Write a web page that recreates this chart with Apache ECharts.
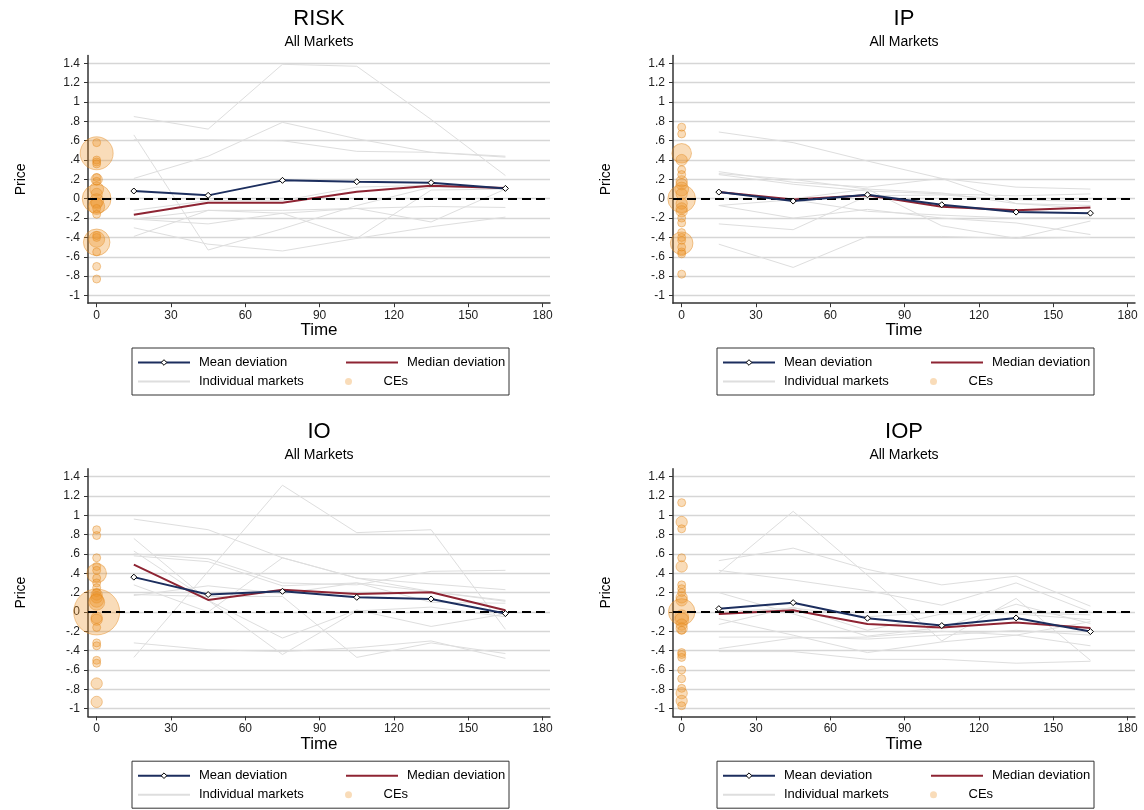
<!DOCTYPE html>
<html><head><meta charset="utf-8">
<script src="https://cdn.jsdelivr.net/npm/echarts@6/dist/echarts.min.js"></script>
<style>html,body{margin:0;padding:0;background:#fff}#c{width:1144px;height:810px}</style>
</head><body><div id="c"></div>
<script>
// ---------- data ----------
const times = [15, 45, 75, 105, 135, 165];
const xTicks = [0, 30, 60, 90, 120, 150, 180];
const yTicks = [-1, -0.8, -0.6, -0.4, -0.2, 0, 0.2, 0.4, 0.6, 0.8, 1, 1.2, 1.4];
const legendNames = ['Mean deviation', 'Median deviation', 'Individual markets', 'CEs'];

const riskMean = [0.08, 0.035, 0.19, 0.176, 0.166, 0.107];
const riskMedian = [-0.166, -0.041, -0.041, 0.073, 0.135, 0.11];
const riskMarkets = [
  [0.85, 0.72, 1.39, 1.37, 0.82, 0.24],
  [0.21, 0.44, 0.79, 0.62, 0.48, 0.43],
  [0.61, 0.61, 0.60, 0.49, 0.48, 0.44],
  [0.66, -0.53, -0.31, -0.07, 0.12, 0.11],
  [-0.12, -0.02, -0.02, 0.12, 0.14, 0.10],
  [-0.21, -0.12, -0.12, -0.10, -0.24, 0.10],
  [-0.21, -0.26, -0.15, -0.10, -0.08, -0.09],
  [-0.30, -0.47, -0.54, -0.41, -0.29, -0.19],
  [-0.39, -0.12, -0.15, -0.41, 0.09, 0.10]
];
const riskCE = [0.58, 0.47, 0.40, 0.38, 0.36, 0.22, 0.20, 0.18, 0.10, 0.05, 0.0, -0.02, -0.05, -0.08, -0.10, -0.16, -0.38, -0.40, -0.42, -0.45, -0.55, -0.70, -0.83];
const riskCEn = [1, 17, 1, 1, 1, 1, 2, 1, 3, 2, 13, 3, 2, 4, 1, 1, 1, 1, 4, 11, 1, 1, 1];

const ipMean = [0.069, -0.024, 0.041, -0.062, -0.138, -0.149];
const ipMedian = [0.07, -0.007, 0.035, -0.083, -0.118, -0.09];
const ipMarkets = [
  [0.69, 0.58, 0.39, 0.21, -0.05, -0.10],
  [0.28, 0.17, 0.12, 0.21, 0.12, 0.10],
  [0.25, 0.15, 0.08, 0.05, 0.03, 0.05],
  [0.26, 0.20, 0.10, 0.06, -0.05, -0.07],
  [-0.07, -0.20, -0.11, -0.20, -0.25, -0.37],
  [-0.26, -0.32, 0.03, 0.04, -0.01, -0.03],
  [0.00, 0.00, 0.10, -0.28, -0.41, -0.23],
  [-0.47, -0.71, -0.39, -0.39, -0.41, -0.40],
  [-0.07, -0.01, -0.13, -0.17, -0.20, -0.19]
];
const ipCE = [0.74, 0.67, 0.47, 0.40, 0.30, 0.25, 0.18, 0.15, 0.10, 0.05, 0.0, -0.05, -0.10, -0.13, -0.20, -0.25, -0.35, -0.40, -0.43, -0.46, -0.50, -0.55, -0.57, -0.78];
const ipCEn = [1, 1, 6, 2, 1, 1, 2, 2, 3, 2, 12, 2, 2, 2, 1, 1, 1, 1, 1, 8, 1, 1, 1, 1];

const ioMean = [0.36, 0.18, 0.213, 0.151, 0.134, -0.017];
const ioMedian = [0.49, 0.124, 0.23, 0.186, 0.203, 0.017];
const ioMarkets = [
  [0.96, 0.85, 0.56, 0.35, 0.21, 0.12],
  [-0.47, 0.42, 1.31, 0.82, 0.85, -0.18],
  [0.76, 0.12, -0.27, 0.02, -0.15, -0.02],
  [0.60, 0.55, 0.30, 0.28, 0.42, 0.43],
  [0.28, 0.00, 0.56, 0.35, 0.29, 0.23],
  [0.17, 0.27, 0.19, 0.30, 0.21, 0.11],
  [-0.32, -0.39, -0.41, -0.37, -0.30, -0.48],
  [0.63, 0.12, -0.44, 0.01, 0.05, -0.05],
  [0.18, 0.16, 0.16, -0.47, -0.32, -0.43],
  [0.58, 0.52, 0.27, 0.30, 0.10, 0.09]
];
const ioCE = [0.85, 0.79, 0.56, 0.47, 0.43, 0.40, 0.35, 0.30, 0.25, 0.20, 0.18, 0.15, 0.12, 0.10, 0.0, -0.06, -0.08, -0.16, -0.32, -0.35, -0.50, -0.53, -0.74, -0.93];
const ioCEn = [1, 1, 1, 1, 1, 6, 1, 1, 1, 1, 2, 2, 3, 4, 33, 2, 2, 1, 1, 1, 1, 1, 2, 2];

const iopMean = [0.034, 0.096, -0.065, -0.141, -0.062, -0.203];
const iopMedian = [-0.02, 0.017, -0.124, -0.162, -0.11, -0.165];
const iopMarkets = [
  [0.40, 1.04, 0.38, -0.30, 0.14, -0.50],
  [0.53, 0.66, 0.44, 0.28, 0.37, 0.06],
  [0.43, 0.33, 0.22, 0.07, 0.30, 0.00],
  [0.20, -0.02, -0.25, -0.16, 0.08, -0.12],
  [-0.13, 0.05, -0.19, -0.02, -0.02, -0.08],
  [-0.07, -0.24, -0.42, -0.31, -0.24, -0.35],
  [-0.26, -0.26, -0.28, -0.24, -0.19, -0.24],
  [-0.38, -0.27, -0.26, -0.20, -0.24, -0.10],
  [-0.41, -0.41, -0.49, -0.49, -0.53, -0.51],
  [0.00, 0.04, -0.05, 0.00, -0.01, -0.03]
];
const iopCE = [1.13, 0.93, 0.86, 0.56, 0.47, 0.28, 0.24, 0.20, 0.15, 0.12, 0.0, -0.05, -0.08, -0.13, -0.17, -0.19, -0.42, -0.44, -0.47, -0.60, -0.69, -0.79, -0.84, -0.92, -0.97];
const iopCEn = [1, 2, 1, 1, 2, 1, 1, 1, 2, 2, 11, 3, 3, 2, 2, 1, 1, 1, 1, 1, 1, 1, 2, 2, 1];

// ---------- layout ----------
const FONT = '"Liberation Sans", Arial, Helvetica, sans-serif';
const panels = [
  {title: 'RISK', mean: riskMean, median: riskMedian, markets: riskMarkets, ce: riskCE, cen: riskCEn, left: 88, top: 55.6},
  {title: 'IP', mean: ipMean, median: ipMedian, markets: ipMarkets, ce: ipCE, cen: ipCEn, left: 673, top: 55.6},
  {title: 'IO', mean: ioMean, median: ioMedian, markets: ioMarkets, ce: ioCE, cen: ioCEn, left: 88, top: 468.8},
  {title: 'IOP', mean: iopMean, median: iopMedian, markets: iopMarkets, ce: iopCE, cen: iopCEn, left: 673, top: 468.8}
];
const GW = 462, GH = 247.6;
const CE_FILL = 'rgba(236,146,36,0.4)';
const CE_EDGE = 'rgba(226,136,30,0.55)';

function stata(v) {
  v = Math.round(v * 10) / 10;
  if (v === 0) return '0';
  let s = String(Math.abs(v));
  if (s.indexOf('0.') === 0) s = s.slice(1);
  return (v < 0 ? '-' : '') + s;
}

const option = {
  animation: false,
  backgroundColor: '#fff',
  textStyle: {fontFamily: FONT},
  grid: [], xAxis: [], yAxis: [], series: [], legend: [], graphic: []
};

panels.forEach((p, i) => {
  const cx = p.left + GW / 2;
  const ty = p.top - 55.6;
  option.grid.push({left: p.left, top: p.top, width: GW, height: GH});
  option.xAxis.push({
    gridIndex: i, type: 'value', min: -3.5, max: 183,
    name: 'Time', nameLocation: 'middle', nameGap: 19,
    nameTextStyle: {fontSize: 17, color: '#000', fontFamily: FONT},
    axisLine: {show: true, onZero: false, lineStyle: {color: '#333', width: 1.5}},
    axisTick: {show: true, length: 4, customValues: xTicks, lineStyle: {color: '#333', width: 1}},
    axisLabel: {customValues: xTicks, fontSize: 12, color: '#222', margin: 6, fontFamily: FONT},
    splitLine: {show: false}
  });
  option.yAxis.push({
    gridIndex: i, type: 'value', min: -1.08, max: 1.48,
    name: 'Price', nameLocation: 'middle', nameGap: 60, nameRotate: 90,
    nameTextStyle: {fontSize: 14, color: '#000', fontFamily: FONT},
    axisLine: {show: true, onZero: false, lineStyle: {color: '#333', width: 1.5}},
    axisTick: {show: true, length: 4, customValues: yTicks, lineStyle: {color: '#333', width: 1}},
    axisLabel: {customValues: yTicks, fontSize: 12, color: '#222', margin: 8, formatter: stata, fontFamily: FONT},
    splitLine: {show: true, lineStyle: {color: '#d6d6d6', width: 1.3}}
  });
  p.markets.forEach(m => {
    option.series.push({
      type: 'line', name: 'Individual markets', xAxisIndex: i, yAxisIndex: i,
      data: times.map((t, k) => [t, m[k]]), symbol: 'none', silent: true,
      color: '#e2e2e2', lineStyle: {color: '#dedede', width: 1}, z: 1
    });
  });
  option.series.push({
    type: 'scatter', name: 'CEs', xAxisIndex: i, yAxisIndex: i,
    data: p.ce.map((v, k) => [0, v, p.cen[k]]),
    symbolSize: d => 8 * Math.sqrt(d[2]),
    itemStyle: {color: CE_FILL, borderColor: CE_EDGE, borderWidth: 1},
    z: 2
  });
  option.series.push({
    type: 'line', xAxisIndex: i, yAxisIndex: i, data: [], z: 3,
    markLine: {silent: true, symbol: 'none', label: {show: false},
      lineStyle: {color: '#000', width: 2, type: [9, 5]}, data: [{yAxis: 0}]}
  });
  option.series.push({
    type: 'line', name: 'Median deviation', xAxisIndex: i, yAxisIndex: i,
    data: times.map((t, k) => [t, p.median[k]]), symbol: 'none',
    color: '#8e2433', lineStyle: {color: '#8e2433', width: 2}, z: 4
  });
  option.series.push({
    type: 'line', name: 'Mean deviation', xAxisIndex: i, yAxisIndex: i,
    data: times.map((t, k) => [t, p.mean[k]]), symbol: 'diamond', symbolSize: 6,
    color: '#1c2e5e', lineStyle: {color: '#1c2e5e', width: 2},
    itemStyle: {color: '#fff', borderColor: '#000', borderWidth: 1}, z: 5
  });
  option.legend.push({
    left: p.left + 44, top: ty + 348, width: 372, orient: 'horizontal',
    itemWidth: 52, itemHeight: 7, itemGap: 4, padding: [7, 2, 6, 5],
    borderColor: '#333', borderWidth: 1, selectedMode: false,
    textStyle: {fontSize: 13, color: '#000', lineHeight: 15, padding: [0, 0, 0, 4], fontFamily: FONT},
    data: [
      {name: legendNames[0], textStyle: {width: 142},
        itemStyle: {color: '#fff', borderColor: '#000', borderWidth: 1}},
      {name: legendNames[1], textStyle: {width: 100}, itemStyle: {opacity: 0}},
      {name: legendNames[2], textStyle: {width: 142}, itemStyle: {opacity: 0}},
      {name: legendNames[3], textStyle: {width: 100}, icon: 'circle',
        itemStyle: {color: CE_FILL, borderColor: CE_FILL, borderWidth: 0}}
    ]
  });
  option.graphic.push({type: 'text', x: cx, y: ty + 19, silent: true,
    style: {text: p.title, fontSize: 22, fontFamily: FONT, fill: '#000', align: 'center', verticalAlign: 'middle'}});
  option.graphic.push({type: 'text', x: cx, y: ty + 42, silent: true,
    style: {text: 'All Markets', fontSize: 14, fontFamily: FONT, fill: '#000', align: 'center', verticalAlign: 'middle'}});
});

const chart = echarts.init(document.getElementById('c'), null, {renderer: 'canvas'});
chart.setOption(option);
</script>
</body></html>
